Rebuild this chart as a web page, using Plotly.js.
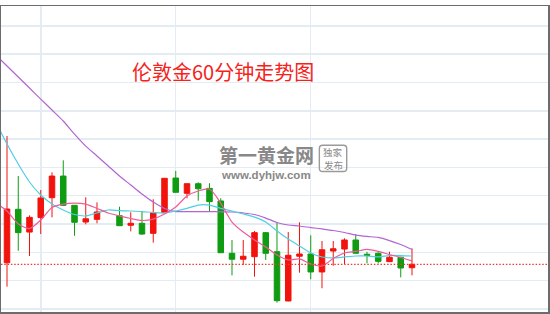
<!DOCTYPE html>
<html>
<head>
<meta charset="utf-8">
<script src="https://cdn.plot.ly/plotly-3.0.1.min.js"></script>
<style>
  html, body { margin: 0; padding: 0; background: #fff; }
  #chart { width: 550px; height: 314px; }
</style>
</head>
<body>
<div id="chart"></div>
<script>
// London gold, hourly bars (bar 9 has no trade)
const barIndex = [0, 1, 2, 3, 4, 5, 6, 7, 8,
  10, 11, 12, 13, 14, 15, 16, 17, 18, 19, 20, 21, 22, 23, 24, 25, 26, 27,
  28, 29, 30, 31, 32, 33, 34, 35, 36];

const openPx = [1289.26, 1293.04, 1291.43, 1292.45, 1293.86, 1295.39, 1293.32, 1292.14, 1292.33,
  1292.59, 1291.91, 1292.05, 1291.34, 1292.80, 1295.25, 1294.17, 1294.85, 1294.52, 1293.63,
  1289.93, 1289.51, 1289.69, 1291.39, 1290.04, 1286.56, 1289.72, 1289.88, 1288.61, 1290.09,
  1290.23, 1290.87, 1289.86, 1289.93, 1289.34, 1289.65, 1288.91];

const highPx = [1298.22, 1295.39, 1292.61, 1294.40, 1295.65, 1296.50, 1293.34, 1293.89, 1293.53,
  1293.22, 1292.83, 1292.92, 1293.75, 1295.25, 1295.75, 1294.86, 1294.95, 1294.88, 1293.82,
  1290.87, 1290.87, 1291.51, 1291.40, 1292.09, 1291.43, 1292.12, 1291.20, 1290.80, 1290.80,
  1290.99, 1291.29, 1290.04, 1290.00, 1290.04, 1289.69, 1290.28];

const lowPx = [1287.57, 1290.11, 1289.74, 1291.29, 1292.47, 1293.27, 1291.17, 1291.98, 1292.05,
  1291.86, 1291.48, 1291.24, 1290.68, 1292.78, 1294.23, 1293.82, 1293.65, 1292.92, 1289.95,
  1288.37, 1289.10, 1288.28, 1289.46, 1286.44, 1286.54, 1288.56, 1288.09, 1287.46, 1289.05,
  1289.17, 1289.92, 1289.22, 1289.22, 1289.31, 1288.23, 1288.37];

const closePx = [1293.06, 1291.39, 1292.47, 1293.84, 1295.39, 1293.32, 1292.12, 1292.37, 1292.85,
  1291.88, 1292.05, 1291.29, 1292.78, 1295.23, 1294.24, 1294.85, 1294.49, 1293.58, 1289.97,
  1289.51, 1289.72, 1291.39, 1289.93, 1286.58, 1289.79, 1289.88, 1288.61, 1290.18, 1290.25,
  1290.87, 1289.93, 1289.79, 1289.36, 1289.65, 1288.89, 1289.15];

// Moving averages, one value per bar slot (from the bar before the window)
const maIndex = [-1, 0, 1, 2, 3, 4, 5, 6, 7, 8, 9, 10, 11, 12, 13, 14, 15, 16, 17, 18,
  19, 20, 21, 22, 23, 24, 25, 26, 27, 28, 29, 30, 31, 32, 33, 34, 35, 36];

const maLong = [1303.94, 1303.17, 1302.39, 1301.61, 1300.83, 1300.06, 1299.28, 1298.36, 1297.51,
  1296.81, 1296.10, 1295.39, 1294.76, 1294.12, 1293.55, 1293.10, 1292.88, 1292.88, 1292.88,
  1292.88, 1292.86, 1292.85, 1292.78, 1292.67, 1292.42, 1292.11, 1291.93, 1291.86, 1291.75,
  1291.65, 1291.54, 1291.40, 1291.22, 1291.12, 1291.05, 1290.83, 1290.55, 1290.20];

const maMid = [1299.21, 1297.65, 1296.24, 1294.97, 1294.05, 1293.41, 1292.99, 1292.67, 1292.57,
  1292.78, 1292.99, 1292.95, 1292.92, 1292.88, 1292.81, 1292.78, 1292.92, 1293.10, 1293.34,
  1293.34, 1293.10, 1292.92, 1292.71, 1292.49, 1292.14, 1291.51, 1290.94, 1290.45, 1289.95,
  1289.67, 1289.60, 1289.67, 1289.74, 1289.74, 1289.67, 1289.77, 1289.77, 1289.74];

const maShort = [1293.50, 1292.92, 1292.00, 1291.68, 1292.28, 1293.17, 1293.41, 1293.48, 1293.41,
  1293.10, 1292.78, 1292.57, 1292.39, 1292.25, 1292.35, 1292.71, 1293.20, 1293.98, 1294.33,
  1294.47, 1293.48, 1292.14, 1291.43, 1290.87, 1290.37, 1289.81, 1289.46, 1289.53, 1289.17,
  1289.03, 1289.56, 1289.95, 1290.06, 1290.20, 1290.06, 1289.84, 1289.63, 1289.39];

const priceGrid = [1286, 1288, 1290, 1292, 1294, 1296, 1298, 1300, 1302, 1304, 1306];
const timeGrid = [3, 15, 27];

const chartTitle = '伦敦金60分钟走势图';

const UP = '#f2130d';
const DOWN = '#0f9c12';

const maLine = (y, color) => ({
  type: 'scatter', mode: 'lines', x: maIndex, y: y,
  line: { color: color, width: 1.2, shape: 'spline', smoothing: 0.7 },
  hoverinfo: 'skip'
});

const traces = [
  {
    type: 'candlestick',
    x: barIndex, open: openPx, high: highPx, low: lowPx, close: closePx,
    increasing: { line: { color: UP, width: 1 }, fillcolor: UP },
    decreasing: { line: { color: DOWN, width: 1 }, fillcolor: DOWN },
    whiskerwidth: 0,
    hoverinfo: 'skip'
  },
  maLine(maLong, '#b365d3'),
  maLine(maMid, '#4fcfe2'),
  maLine(maShort, '#ee5d98')
];

const lastClose = closePx[closePx.length - 1];

// rounded badge frame next to the site mark (paper units)
const bx0 = 0.582, bx1 = 0.632, by0 = 0.459, by1 = 0.545, rx = 0.006, ry = 0.011;
const badgePath =
  `M ${bx0 + rx},${by1} L ${bx1 - rx},${by1} Q ${bx1},${by1} ${bx1},${by1 - ry} ` +
  `L ${bx1},${by0 + ry} Q ${bx1},${by0} ${bx1 - rx},${by0} ` +
  `L ${bx0 + rx},${by0} Q ${bx0},${by0} ${bx0},${by0 + ry} ` +
  `L ${bx0},${by1 - ry} Q ${bx0},${by1} ${bx0 + rx},${by1} Z`;

const layout = {
  width: 550, height: 314,
  margin: { l: 1, r: 2, t: 6, b: 2, pad: 0 },
  paper_bgcolor: '#ffffff', plot_bgcolor: '#ffffff',
  showlegend: false,
  xaxis: {
    range: [-0.533, 48.09],
    tickvals: timeGrid, showticklabels: false, ticks: '',
    showgrid: true, gridcolor: '#e4ecf3', gridwidth: 1.5,
    zeroline: false, showline: true, mirror: true,
    linecolor: '#6c6c6c', linewidth: 1.5,
    rangeslider: { visible: false }, fixedrange: true
  },
  yaxis: {
    range: [1285.78, 1307.41],
    tickvals: priceGrid, showticklabels: false, ticks: '',
    showgrid: true, gridcolor: '#e4ecf3', gridwidth: 1.5,
    zeroline: false, showline: true, mirror: true,
    linecolor: '#6c6c6c', linewidth: 1.5, fixedrange: true
  },
  shapes: [
    {
      type: 'line', xref: 'paper', x0: 0, x1: 1, yref: 'y', y0: lastClose, y1: lastClose,
      line: { color: '#f03a30', width: 1.3, dash: '1.5px,1.8px' }, layer: 'above'
    },
    {
      type: 'path', xref: 'paper', yref: 'paper', path: badgePath,
      line: { color: '#9a9a9a', width: 1.4 }, fillcolor: 'rgba(0,0,0,0)', layer: 'above'
    }
  ],
  annotations: [
    {
      text: chartTitle, xref: 'paper', yref: 'paper', x: 0.405, y: 0.786,
      xanchor: 'center', yanchor: 'middle', showarrow: false,
      font: { family: 'Noto Sans CJK SC, sans-serif', size: 20, color: '#f5221b' }
    },
    {
      text: '<b>第一黄金网</b>', xref: 'paper', yref: 'paper', x: 0.485, y: 0.516,
      xanchor: 'center', yanchor: 'middle', showarrow: false, borderpad: 0,
      font: { family: 'Noto Sans CJK SC, sans-serif', size: 19, color: '#888888' }
    },
    {
      text: '<b>www.dyhjw.com</b>', xref: 'paper', yref: 'paper', x: 0.485, y: 0.448,
      xanchor: 'center', yanchor: 'middle', showarrow: false, borderpad: 0,
      font: { family: 'Liberation Sans, Arial, sans-serif', size: 11.5, color: '#888888' }
    },
    {
      text: '独家', xref: 'paper', yref: 'paper', x: 0.607, y: 0.524,
      xanchor: 'center', yanchor: 'middle', showarrow: false, borderpad: 0,
      font: { family: 'Noto Sans CJK SC, sans-serif', size: 9.5, color: '#8a8a8a' }
    },
    {
      text: '发布', xref: 'paper', yref: 'paper', x: 0.607, y: 0.481,
      xanchor: 'center', yanchor: 'middle', showarrow: false, borderpad: 0,
      font: { family: 'Noto Sans CJK SC, sans-serif', size: 9.5, color: '#8a8a8a' }
    }
  ]
};

Plotly.newPlot('chart', traces, layout, { displayModeBar: false, staticPlot: true });
</script>
</body>
</html>
